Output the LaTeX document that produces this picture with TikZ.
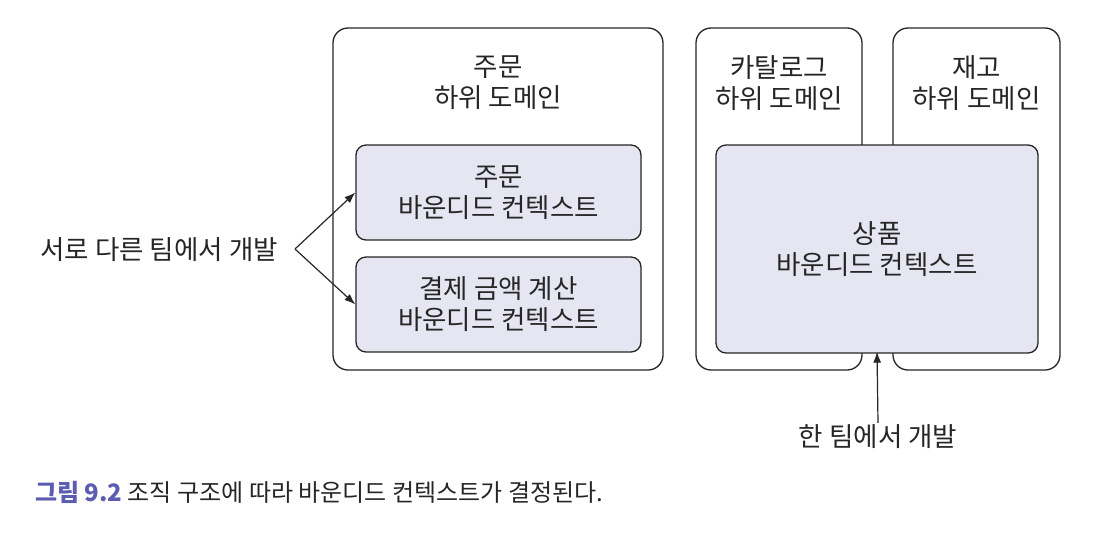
\documentclass[tikz,border=0pt]{standalone}
\usepackage{fontspec}
\setmainfont{Noto Sans CJK KR}
\usepackage{tikz}
\usetikzlibrary{arrows.meta}
\usetikzlibrary{positioning}

\definecolor{inkgray}{HTML}{262626}
\definecolor{bcfill}{HTML}{E6E6F3}
\definecolor{capblue}{HTML}{5C5CB0}

\tikzset{
  domainbox/.style={draw=inkgray,line width=1.3pt,rounded corners=15pt,fill=white},
  ctxbox/.style={draw=inkgray,line width=1.3pt,rounded corners=10pt,fill=bcfill,
    align=center,text=inkgray,font=\fontsize{26.5}{31}\selectfont},
  lbl/.style={align=center,text=inkgray,inner sep=2pt,font=\fontsize{26.5}{31}\selectfont},
  arr/.style={draw=inkgray,line width=1.2pt,-{Latex[length=11pt,width=8pt]}}
}

\begin{document}
\begin{tikzpicture}[x=1pt,y=-1pt]
			\useasboundingbox (0,0) rectangle (1100,538);
			% sub domains
			\node[domainbox,minimum width=330pt,minimum height=342pt] (order) at (498,199) {};
			\node[domainbox,minimum width=166pt,minimum height=342pt] (catalog) at (779,199) {};
			\node[domainbox,minimum width=167pt,minimum height=342pt] (stock) at (976.5,199) {};
			\node[lbl] (orderlbl) at (498,83) {주문\\하위 도메인};
			\node[lbl] (cataloglbl) at (779,83) {카탈로그\\하위 도메인};
			\node[lbl] (stocklbl) at (976.5,83) {재고\\하위 도메인};
			% bounded contexts
			\node[ctxbox,minimum width=285pt,minimum height=95pt] (orderctx) at (498.5,192.5) {주문\\바운디드 컨텍스트};
			\node[ctxbox,minimum width=285pt,minimum height=95pt] (payctx) at (498.5,304.5) {결제 금액 계산\\바운디드 컨텍스트};
			\node[ctxbox,minimum width=322pt,minimum height=208pt] (productctx) at (877,249) {상품\\바운디드 컨텍스트};
			% teams
			\node[lbl,anchor=east] (manyteams) at (280,250) {서로 다른 팀에서 개발};
			\coordinate (fork) at (295,249);
			\draw[arr] (fork) -- (orderctx.west);
			\draw[arr] (fork) -- (payctx.west);
			\node[lbl] (oneteam) at (878,437) {한 팀에서 개발};
			\draw[arr] (oneteam.north) -- ([yshift=2pt]productctx.south);
			% caption
			\node[anchor=west,inner sep=0pt,text=inkgray,font=\fontsize{24}{28}\selectfont] (caption) at (35,492)
			  {\textcolor{capblue}{\bfseries 그림 9.2} 조직 구조에 따라 바운디드 컨텍스트가 결정된다.};
\end{tikzpicture}
\end{document}
